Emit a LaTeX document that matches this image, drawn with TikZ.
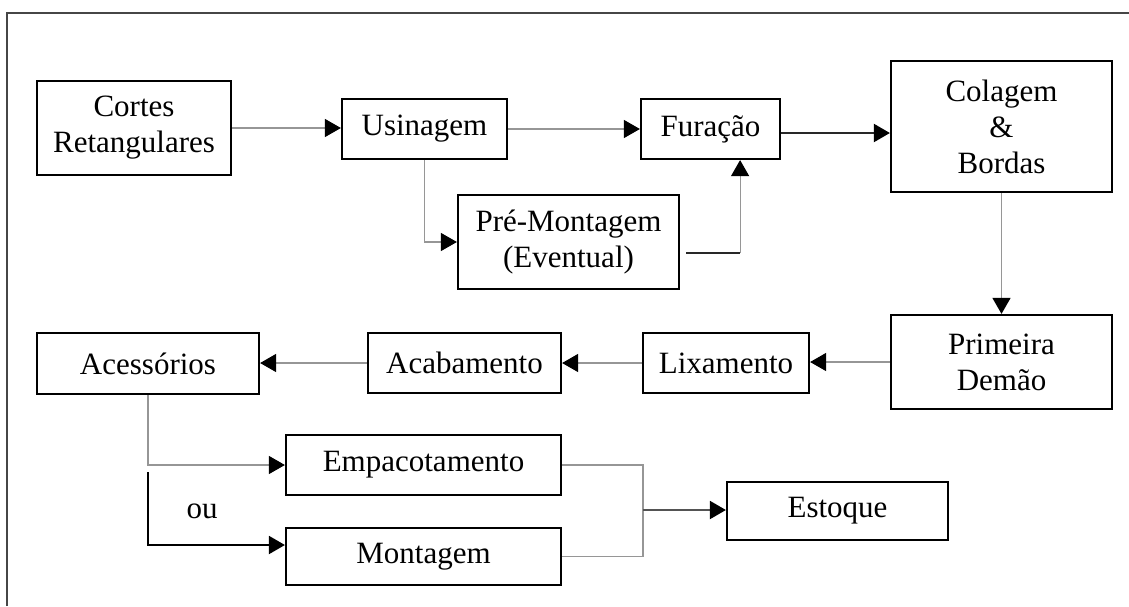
\documentclass[tikz,border=0pt]{standalone}
\usepackage{fontspec}
\setmainfont{Liberation Serif}
\usetikzlibrary{arrows.meta}
\definecolor{fioclaro}{RGB}{150,150,150}
\definecolor{fioescuro}{RGB}{40,40,40}
\definecolor{moldura}{RGB}{70,70,70}

\begin{document}
\begin{tikzpicture}[x=0.5pt,y=-0.5pt,
    etapa/.style={draw,line width=1.1pt,inner sep=0pt,align=center,
      font=\fontsize{15.5}{18}\selectfont},
    fluxo/.style={fioclaro,line width=0.6pt,-{Triangle[length=8pt,width=9pt]},
      arrows={[color=black]}},
    fluxoforte/.style={fluxo,fioescuro,line width=1pt}]
        \useasboundingbox (0,0) rectangle (1129,606);
        \draw[moldura,line width=1pt] (7,606) -- (7,13) -- (1129,13);
        % primeira linha
        \node[etapa,minimum width=97pt,minimum height=47pt] (cortes) at (134,128) {Cortes\\Retangulares};
        \node[etapa,minimum width=82.5pt,minimum height=30pt] (usinagem) at (424.5,129) {Usinagem};
        \node[etapa,minimum width=69.5pt,minimum height=30pt] (furacao) at (710.5,129) {Furação};
        \node[etapa,minimum width=110.5pt,minimum height=65.5pt] (colagem) at (1001.5,126.5) {Colagem\\\&\\Bordas};
        \node[etapa,minimum width=110.5pt,minimum height=47pt] (premont) at (568.5,242) {Pré-Montagem\\(Eventual)};
        % segunda linha
        \node[etapa,minimum width=110.5pt,minimum height=47pt] (primeira) at (1001.5,362) {Primeira\\Demão};
        \node[etapa,minimum width=83pt,minimum height=30pt] (lixamento) at (726,363) {Lixamento};
        \node[etapa,minimum width=96.5pt,minimum height=30pt] (acabamento) at (464.5,363) {Acabamento};
        \node[etapa,minimum width=111pt,minimum height=30.5pt] (acessorios) at (148,363.5) {Acessórios};
        % saida
        \node[etapa,minimum width=137.5pt,minimum height=30pt] (empac) at (423.5,465) {Empacotamento};
        \node[etapa,minimum width=137.5pt,minimum height=28.5pt] (montagem) at (423.5,556.5) {Montagem};
        \node[etapa,minimum width=110.5pt,minimum height=29pt] (estoque) at (837.5,511) {Estoque};
        \node[font=\fontsize{15.5}{18}\selectfont] (ou) at (202,511) {ou};
        \coordinate (ramo) at (148,472);
        \coordinate (juncao) at (643,510);

        \draw[fluxo] (cortes.east) -- (cortes.east -| usinagem.west);
        \draw[fluxo] (usinagem.east) -- (furacao.west);
        \draw[fluxoforte] ([yshift=-2pt]furacao.east) -- ([yshift=-2pt]furacao.east -| colagem.west);
        \draw[fluxo] (usinagem.south) |- (premont.west);
        \draw[fioescuro,line width=1pt] ([xshift=3pt,yshift=-5.5pt]premont.east) -- ++(27pt,0) coordinate (canto);
        \draw[fluxo] (canto) -- (canto |- furacao.south);
        \draw[fluxo] (colagem.south) -- (primeira.north);
        \draw[fluxo] (primeira.west) -- (primeira.west -| lixamento.east);
        \draw[fluxo] (lixamento.west) -- (lixamento.west -| acabamento.east);
        \draw[fluxo] (acabamento.west) -- (acabamento.west -| acessorios.east);
        \draw[fluxo] (acessorios.south) |- (empac.west);
        \draw[fluxoforte,black] (ramo) |- ([yshift=5.75pt]montagem.west);
        \draw[fioclaro,line width=0.8pt] (empac.east) -| (juncao |- montagem.east) -- (montagem.east);
        \draw[fluxoforte,fioescuro!80] (juncao) -- (juncao -| estoque.west);
      \end{tikzpicture}
\end{document}
